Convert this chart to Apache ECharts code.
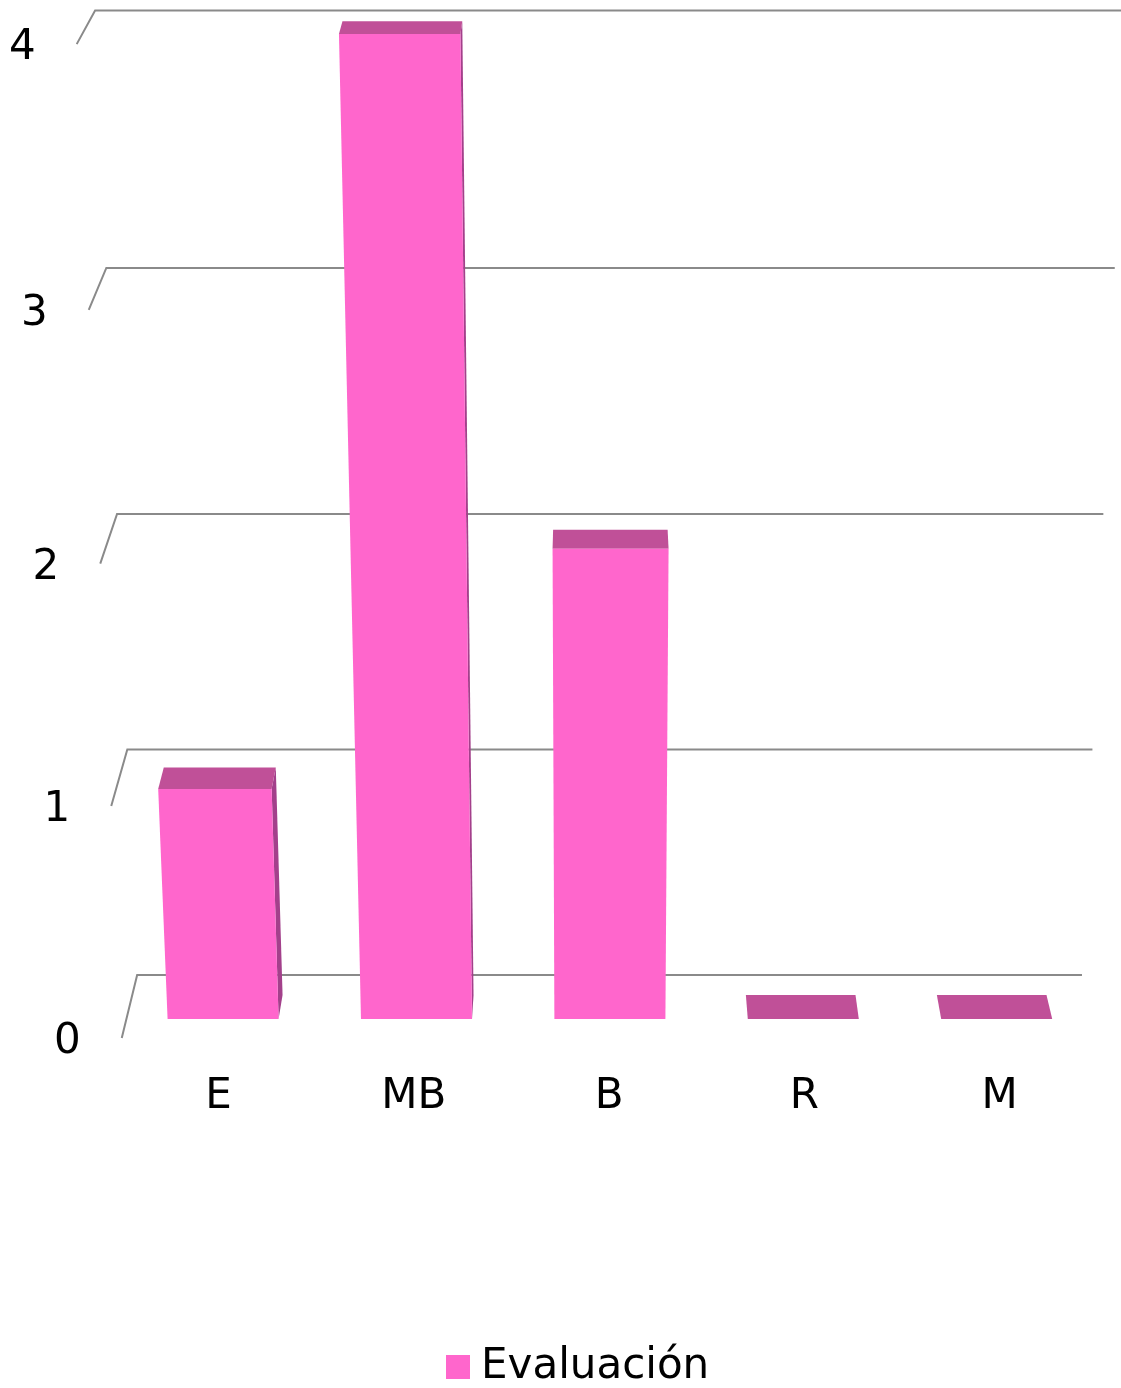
<!DOCTYPE html>
<html>
<head>
<meta charset="utf-8">
<script src="https://cdn.jsdelivr.net/npm/echarts@6/dist/echarts.min.js"></script>
<style>
  html, body { margin: 0; padding: 0; background: #ffffff; }
  #chart { width: 1121px; height: 1388px; }
</style>
</head>
<body>
<div id="chart"></div>
<script>
// Chart data
const categories = ['E', 'MB', 'B', 'R', 'M'];
const evaluacion = [1, 4, 2, 0, 0];
const yTicks = [0, 1, 2, 3, 4];
const yTickLabels = ['0', '1', '2', '3', '4'];
const seriesName = 'Evaluación';

// Perspective camera used to draw the 3D column look
const CAM_X = 595;          // horizontal position of the camera axis (px)
const VP_VERT = 11477;      // vanishing y of vertical edges
const VP_DEPTH = -900;      // vanishing y of depth edges
const K_VAL = -0.02152;     // perspective factor per value unit
const K_DEPTH = 0.01267;    // perspective factor per bar-depth unit
const Z_WALL = 1.853;       // depth of the back wall
const Z_FRONT = -0.774;     // depth of the front edge of the side wall
const BAR_RATIO = 0.287;    // half bar width as share of a category band

const FONT_FAMILY = '"DejaVu Sans", Verdana, sans-serif';
const FONT = '42px ' + FONT_FAMILY;
const COLOR_FRONT = '#FF66CC';
const COLOR_TOP = '#C05098';
const COLOR_SIDE = '#A3408B';
const COLOR_GRID = '#8A8A8A';

function project(xs, Y, Z, y0) {
  const w = 1 + K_VAL * Y + K_DEPTH * Z;
  return [CAM_X + xs / w, (y0 + K_VAL * Y * VP_VERT + K_DEPTH * Z * VP_DEPTH) / w];
}

// value -> value units through the axis scale
function valueUnits(api, v) {
  const y0 = api.coord([0, 0])[1];
  const unit = y0 - api.coord([0, 1])[1];
  return { Y: (y0 - api.coord([0, v])[1]) / unit, y0: y0 };
}

function renderGrid(params, api) {
  const t = api.value(1);
  const idx = api.value(2);
  const cs = params.coordSys;
  const r = valueUnits(api, t);
  const left = cs.x - CAM_X;
  const right = cs.x + cs.width - CAM_X;
  const pFront = project(left, r.Y, Z_FRONT, r.y0);
  const pWallL = project(left, r.Y, Z_WALL, r.y0);
  const pWallR = project(right, r.Y, Z_WALL, r.y0);
  return {
    type: 'group',
    children: [
      {
        type: 'polyline',
        shape: { points: [pFront, pWallL, pWallR] },
        style: { stroke: COLOR_GRID, lineWidth: 2, fill: null }
      },
      {
        type: 'text',
        style: {
          text: yTickLabels[idx],
          x: pFront[0] - 41,
          y: pFront[1] + 4,
          align: 'right',
          verticalAlign: 'middle',
          font: FONT,
          fill: '#000000'
        }
      }
    ]
  };
}

function renderBar(params, api) {
  const cat = api.value(0);
  const r = valueUnits(api, api.value(1));
  const y0 = r.y0;
  const Y = r.Y;
  const xc = api.coord([cat, 0])[0] - CAM_X;
  const hw = api.size([1, 0])[0] * BAR_RATIO;
  const xl = xc - hw, xr = xc + hw;
  const children = [];

  if (Y > 0 && xr < 0) {
    children.push({
      type: 'polygon',
      shape: { points: [project(xr, 0, 0, y0), project(xr, 0, 1, y0), project(xr, Y, 1, y0), project(xr, Y, 0, y0)] },
      style: { fill: COLOR_SIDE }
    });
  }
  if (Y > 0 && xl > 0) {
    children.push({
      type: 'polygon',
      shape: { points: [project(xl, 0, 0, y0), project(xl, 0, 1, y0), project(xl, Y, 1, y0), project(xl, Y, 0, y0)] },
      style: { fill: COLOR_SIDE }
    });
  }
  children.push({
    type: 'polygon',
    shape: { points: [project(xl, Y, 0, y0), project(xr, Y, 0, y0), project(xr, Y, 1, y0), project(xl, Y, 1, y0)] },
    style: { fill: COLOR_TOP }
  });
  if (Y > 0) {
    children.push({
      type: 'polygon',
      shape: { points: [project(xl, 0, 0, y0), project(xr, 0, 0, y0), project(xr, Y, 0, y0), project(xl, Y, 0, y0)] },
      style: { fill: COLOR_FRONT }
    });
  }
  const lp = project(xc, 0, Z_FRONT, y0);
  children.push({
    type: 'text',
    style: {
      text: categories[cat],
      x: lp[0] - 1,
      y: lp[1] + 59,
      align: 'center',
      verticalAlign: 'middle',
      font: FONT,
      fill: '#000000'
    }
  });
  return { type: 'group', children: children };
}

const chart = echarts.init(document.getElementById('chart'), null, { renderer: 'canvas' });
chart.setOption({
  backgroundColor: '#ffffff',
  animation: false,
  grid: { left: 126.4, right: 27.6, top: 59, bottom: 369 },
  xAxis: { type: 'category', data: categories, show: false },
  yAxis: { type: 'value', min: 0, max: 4, interval: 1, show: false },
  legend: {
    data: [seriesName],
    left: 446,
    top: 1346,
    padding: 0,
    itemWidth: 24,
    itemHeight: 24,
    icon: 'rect',
    selectedMode: false,
    textStyle: {
      fontFamily: FONT_FAMILY,
      fontSize: 42,
      lineHeight: 42,
      color: '#000000',
      padding: [0, 0, 0, 6]
    }
  },
  series: [
    {
      type: 'custom',
      silent: true,
      clip: false,
      z: 1,
      data: yTicks.map((t, i) => [0, t, i]),
      renderItem: renderGrid
    },
    {
      name: seriesName,
      type: 'custom',
      clip: false,
      z: 2,
      itemStyle: { color: COLOR_FRONT },
      data: evaluacion.map((v, i) => [i, v]),
      renderItem: renderBar
    }
  ]
});
</script>
</body>
</html>
